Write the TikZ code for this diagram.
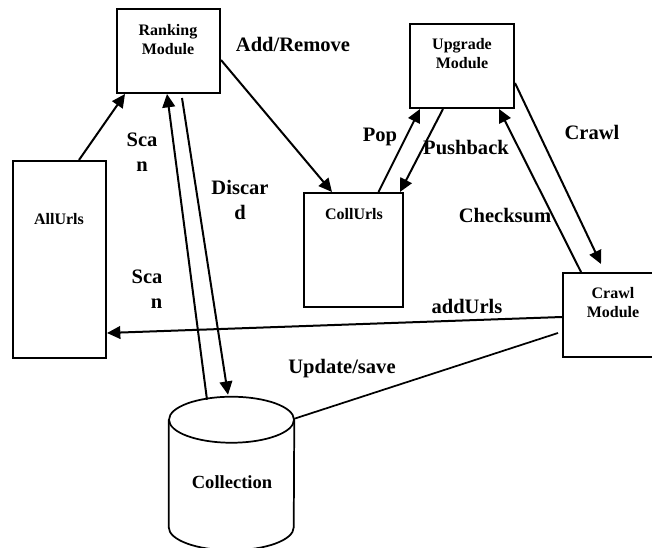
\documentclass[tikz,border=0pt]{standalone}
\usepackage{fontspec}
\setmainfont{Liberation Serif}
\usetikzlibrary{arrows.meta,calc}
\begin{document}
\begin{tikzpicture}[x=0.75pt,y=-0.75pt,
  box/.style={draw,line width=1.5pt,inner sep=0pt},
  ntext/.style={font=\bfseries\fontsize{12}{14.25}\selectfont,align=center,inner sep=0pt},
  elabel/.style={font=\bfseries\fontsize{15.4}{18.75}\selectfont,align=center,inner sep=0pt},
  conn/.style={line width=1.5pt},
  arr/.style={conn,-{Triangle[length=10pt,width=9.5pt]}}]
\useasboundingbox (0,0) rectangle (652,548);
\clip (0,0) rectangle (652,548);
% boxes
\node[box,minimum width=77.25pt,minimum height=63pt] (Rank) at (168.5,51) {};
\node[box,minimum width=78pt,minimum height=63pt] (Upg) at (462,66) {};
\node[box,minimum width=69.75pt,minimum height=147.75pt] (All) at (59.5,259.5) {};
\node[box,minimum width=74.25pt,minimum height=85.5pt] (Coll) at (353.5,250) {};
\node[box,minimum width=75pt,minimum height=63pt] (Cr) at (613,315) {};
% collection cylinder
\node[inner sep=0pt,minimum width=93.75pt,minimum height=114.75pt] (Col) at (231.5,473.5) {};
\draw[line width=1.3pt] ($(Col.north west)+(0,23)$) -- ($(Col.south west)+(0,-23)$)
  arc[start angle=180,end angle=0,x radius=62.5,y radius=23] -- ($(Col.north east)+(0,23)$);
\draw[line width=1.3pt] ($(Col.north)+(0,23)$) ellipse[x radius=62.5,y radius=23];
% texts
\node[ntext] (tRank) at (168,40) {Ranking\\Module};
\node[ntext] (tUpg) at (462,54) {Upgrade\\Module};
\node[ntext] (tAll) at (59,219) {AllUrls};
\node[ntext] (tColl) at (354,214) {CollUrls};
\node[ntext] (tCr) at (613,303) {Crawl\\Module};
\node[ntext,font=\bfseries\fontsize{13.9}{16}\selectfont] (tCol) at (232,482) {Collection};
% connectors
\draw[arr] ($(All.north)+(19.5,0)$) -- ($(Rank.south west)+(9,0)$);
\draw[arr] ($(Rank.east)+(0,9)$) -- ($(Coll.north west)+(29,0)$);
\draw[arr] ($(Col.north)+(-24.5,3)$) -- ($(Rank.south)+(-1.5,0)$);
\draw[arr] ($(Rank.south)+(13.5,4)$) -- ($(Col.north)+(-3.5,-2)$);
\draw[arr] ($(Coll.north)+(25,0)$) -- ($(Upg.south west)+(11,0)$);
\draw[arr] ($(Upg.south)+(-19,0)$) -- ($(Coll.north east)+(-4,0)$);
\draw[arr] ($(Upg.east)+(0,17)$) -- ($(Cr.north west)+(39,-8)$);
\draw[arr] ($(Cr.north west)+(19,0)$) -- ($(Upg.south east)+(-16,0)$);
\draw[arr] ($(Cr.west)+(0,2)$) -- ($(All.east)+(0,73.5)$);
\draw[line width=1.3pt] ($(Col.north east)+(0,22)$) -- ($(Cr.west)+(-4,18)$);
% labels
\node[elabel] (lAdd) at (293,44) {Add/Remove};
\node[elabel] (lScan1) at (142,152) {Sca\\n};
\node[elabel] (lDisc) at (240,200) {Discar\\d};
\node[elabel,align=right] (lScan2) at (147,289) {Sca\\n};
\node[elabel] (lPop) at (380,137) {Pop};
\node[elabel] (lPush) at (466,148) {Pushback};
\node[elabel] (lCrawl) at (592,132) {Crawl};
\node[elabel] (lCheck) at (505,216) {Checksum};
\node[elabel] (lAddU) at (467,306) {addUrls};
\node[elabel] (lUpd) at (342,369) {Update/save};
\end{tikzpicture}
\end{document}
